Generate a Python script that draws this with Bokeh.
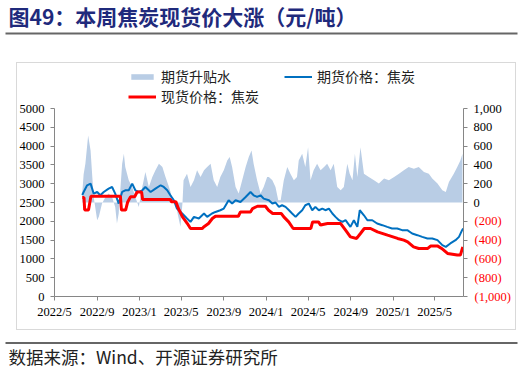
import pandas as pd
from bokeh.plotting import figure
from bokeh.layouts import column
from bokeh.models import (Range1d, LinearAxis, FixedTicker, ColumnDataSource, Legend, LegendItem)
from bokeh.core.properties import value
from bokeh.embed import file_html
from bokeh.resources import INLINE

# ---------------- data ----------------
spot_dates = ["2022-07-20", "2022-07-25", "2022-07-27", "2022-08-07", "2022-08-14", "2022-11-07",
              "2022-11-10", "2022-11-22", "2022-11-28", "2022-12-06", "2022-12-18", "2022-12-25",
              "2023-01-07", "2023-01-10", "2023-03-31", "2023-04-03", "2023-04-16", "2023-04-23",
              "2023-05-05", "2023-05-19", "2023-05-28", "2023-07-01", "2023-07-05", "2023-07-19",
              "2023-07-30", "2023-08-08", "2023-10-13", "2023-10-19", "2023-11-17", "2023-11-23",
              "2023-12-07", "2023-12-30", "2024-01-08", "2024-01-20", "2024-02-14", "2024-02-21",
              "2024-03-06", "2024-03-19", "2024-05-09", "2024-05-14", "2024-05-31", "2024-06-06",
              "2024-06-26", "2024-08-03", "2024-08-17", "2024-08-31", "2024-09-18", "2024-09-29",
              "2024-10-10", "2024-10-28", "2024-11-17", "2024-12-16", "2025-01-14", "2025-02-01",
              "2025-02-12", "2025-03-01", "2025-03-16", "2025-04-11", "2025-04-19", "2025-05-10",
              "2025-05-21", "2025-06-07", "2025-07-05", "2025-07-14", "2025-07-21"]
spot_vals = [2630, 2630, 2300, 2300, 2665, 2665,
             2300, 2300, 2515, 2650, 2650, 2780,
             2780, 2580, 2580, 2520, 2520, 2340,
             2117, 1941, 1809, 1809, 1851, 1941,
             2074, 2135, 2135, 2249, 2249, 2339,
             2400, 2400, 2294, 2207, 2207, 2117,
             1984, 1809, 1809, 1984, 1984, 1900,
             1941, 1941, 1764, 1586, 1544, 1676,
             1809, 1809, 1720, 1631, 1544, 1498,
             1454, 1321, 1278, 1278, 1340, 1340,
             1278, 1146, 1101, 1101, 1321]

fut_dates = ["2022-07-20", "2022-07-24", "2022-08-03", "2022-08-13", "2022-08-22", "2022-09-01",
             "2022-09-10", "2022-09-20", "2022-10-04", "2022-10-14", "2022-10-23", "2022-11-02",
             "2022-11-12", "2022-11-21", "2022-12-01", "2022-12-11", "2022-12-20", "2022-12-30",
             "2023-01-09", "2023-01-18", "2023-02-02", "2023-02-16", "2023-03-03", "2023-03-12",
             "2023-03-22", "2023-03-31", "2023-04-10", "2023-04-19", "2023-05-04", "2023-05-18",
             "2023-05-28", "2023-06-07", "2023-06-21", "2023-07-06", "2023-07-15", "2023-07-29",
             "2023-08-08", "2023-08-22", "2023-09-01", "2023-09-15", "2023-09-25", "2023-10-05",
             "2023-10-19", "2023-11-03", "2023-11-17", "2023-11-26", "2023-12-06", "2023-12-16",
             "2023-12-25", "2024-01-09", "2024-01-19", "2024-01-28", "2024-02-07", "2024-02-16",
             "2024-02-26", "2024-03-07", "2024-03-16", "2024-03-26", "2024-04-04", "2024-04-14",
             "2024-04-23", "2024-05-03", "2024-05-13", "2024-05-22", "2024-06-01", "2024-06-11",
             "2024-06-20", "2024-06-30", "2024-07-10", "2024-07-19", "2024-07-29", "2024-08-08",
             "2024-08-17", "2024-08-31", "2024-09-10", "2024-09-20", "2024-09-27", "2024-10-09",
             "2024-10-19", "2024-11-02", "2024-11-16", "2024-12-01", "2024-12-15", "2024-12-29",
             "2025-01-13", "2025-01-27", "2025-02-11", "2025-02-25", "2025-03-12", "2025-03-26",
             "2025-04-10", "2025-04-24", "2025-05-09", "2025-05-23", "2025-06-02", "2025-06-15",
             "2025-06-30", "2025-07-10", "2025-07-19", "2025-07-22"]
fut_vals = [2700, 2780, 2958, 3003, 2737, 2780,
            2692, 2780, 2870, 2913, 2737, 2472,
            2780, 2825, 2825, 3003, 2825, 2780,
            2825, 2913, 2780, 2870, 2958, 2913,
            2825, 2692, 2560, 2339, 2207, 2074,
            1984, 2117, 2074, 2207, 2117, 2207,
            2249, 2294, 2339, 2560, 2472, 2560,
            2515, 2647, 2780, 2692, 2647, 2692,
            2604, 2560, 2472, 2500, 2383, 2427,
            2383, 2294, 2207, 2117, 2207, 2294,
            2427, 2472, 2294, 2383, 2294, 2339,
            2294, 2339, 2207, 2117, 2029, 1984,
            2029, 1851, 2029, 1851, 2294, 2160,
            2029, 2029, 1941, 1897, 1851, 1809,
            1809, 1764, 1764, 1676, 1631, 1586,
            1544, 1544, 1498, 1366, 1321, 1411,
            1498, 1586, 1764, 1809]

basis_dates = ["2022-07-20", "2022-07-24", "2022-07-29", "2022-08-06", "2022-08-13", "2022-08-18",
               "2022-08-22", "2022-09-01", "2022-09-06", "2022-09-15", "2022-09-25", "2022-10-04",
               "2022-10-14", "2022-10-23", "2022-10-28", "2022-11-02", "2022-11-12", "2022-11-17",
               "2022-11-21", "2022-12-01", "2022-12-11", "2022-12-20", "2022-12-30", "2023-01-09",
               "2023-01-18", "2023-01-28", "2023-02-07", "2023-02-16", "2023-02-26", "2023-03-08",
               "2023-03-17", "2023-03-27", "2023-04-05", "2023-04-15", "2023-04-20", "2023-04-29",
               "2023-05-05", "2023-05-08", "2023-05-18", "2023-05-28", "2023-06-07", "2023-06-16",
               "2023-06-26", "2023-07-06", "2023-07-15", "2023-07-25", "2023-08-03", "2023-08-13",
               "2023-08-22", "2023-09-01", "2023-09-11", "2023-09-18", "2023-09-25", "2023-10-05",
               "2023-10-14", "2023-10-24", "2023-11-03", "2023-11-12", "2023-11-20", "2023-11-26",
               "2023-12-06", "2023-12-16", "2023-12-25", "2024-01-04", "2024-01-09", "2024-01-19",
               "2024-01-28", "2024-02-05", "2024-02-12", "2024-02-21", "2024-03-02", "2024-03-11",
               "2024-03-21", "2024-03-30", "2024-04-04", "2024-04-14", "2024-04-23", "2024-05-01",
               "2024-05-08", "2024-05-17", "2024-05-27", "2024-06-06", "2024-06-16", "2024-06-25",
               "2024-07-05", "2024-07-14", "2024-07-24", "2024-08-03", "2024-08-12", "2024-08-22",
               "2024-08-29", "2024-09-06", "2024-09-13", "2024-09-20", "2024-09-29", "2024-10-09",
               "2024-10-23", "2024-11-07", "2024-11-21", "2024-12-06", "2024-12-20", "2025-01-04",
               "2025-01-18", "2025-02-01", "2025-02-15", "2025-03-02", "2025-03-16", "2025-03-31",
               "2025-04-14", "2025-04-24", "2025-05-09", "2025-05-23", "2025-06-02", "2025-06-11",
               "2025-06-25", "2025-07-05", "2025-07-14", "2025-07-20"]
basis_vals = [100, 300, 413, 713, 554, 271,
              59, -188, -150, -11, 59, 95,
              59, -47, -223, -117, 413, 519,
              377, 236, 165, 59, -47, 165,
              324, 165, 271, 342, 413, 377,
              271, 165, 59, -11, -100, -259,
              0, 236, 307, 165, 236, 342,
              271, 342, 377, 413, 236, 165,
              271, 342, 448, 483, 377, 165,
              95, 236, 377, 483, 554, 413,
              236, 95, 165, 271, 271, 236,
              165, 24, 24, 236, 377, 307,
              236, 271, 448, 519, 377, 589,
              236, 342, 413, 342, 377, 413,
              342, 413, 165, 130, 165, 413,
              307, 236, 519, 271, 589, 307,
              271, 236, 201, 254, 236, 271,
              307, 342, 377, 360, 377, 324,
              307, 254, 201, 130, 112, 218,
              307, 377, 448, 519]

x_tick_dates = ["2022-05-01", "2022-09-01", "2023-01-01", "2023-05-01", "2023-09-01", "2024-01-01",
                "2024-05-01", "2024-09-01", "2025-01-01", "2025-05-01"]
x_tick_labels = ["2022/5", "2022/9", "2023/1", "2023/5", "2023/9", "2024/1",
                 "2024/5", "2024/9", "2025/1", "2025/5"]
left_ticks = [0, 500, 1000, 1500, 2000, 2500, 3000, 3500, 4000, 4500, 5000]
right_ticks = [-1000, -800, -600, -400, -200, 0, 200, 400, 600, 800, 1000]
right_tick_labels = ["(1,000)", "(800)", "(600)", "(400)", "(200)", "0", "200", "400", "600", "800", "1,000"]

title_text = "图49：本周焦炭现货价大涨（元/吨）"
source_text = "数据来源：Wind、开源证券研究所"
series_names = ["期货升贴水", "期货价格：焦炭", "现货价格：焦炭"]

# ---------------- styling / layout constants ----------------
AXIS_COL = "#868686"
BOX_COL = "#D9D9D9"
SERIF = "Liberation Serif"
CJK = "Noto Sans CJK SC"
AREA_COL = "#B9CDE5"
FUT_COL = "#0070C0"
SPOT_COL = "#FF0000"
W = 522
HDR_H, MAIN_H, FTR_H = 40, 290, 46
BORDER_T, BORDER_B = 22, 34               # main frame spans y = 62 .. 296 on the page
FRAME_H = MAIN_H - BORDER_T - BORDER_B    # 234 px
AXIS_H = 188                              # axes (0..5000 / -1000..1000) occupy the lower 188 px
LEFT_MIN, LEFT_MAX = left_ticks[0], left_ticks[-1]
RIGHT_MIN, RIGHT_MAX = right_ticks[0], right_ticks[-1]


def ms(d):
    return int(pd.Timestamp(d).value // 10**6)


def blank_fig(h, y_top):
    f = figure(width=W, height=h, x_range=Range1d(0, W), y_range=Range1d(y_top + h, y_top),
               output_backend="svg", toolbar_location=None,
               min_border_left=0, min_border_right=0, min_border_top=0, min_border_bottom=0,
               x_axis_location=None, y_axis_location=None)
    f.frame_align = False
    f.grid.visible = False
    f.outline_line_color = None
    f.background_fill_color = "white"
    f.border_fill_color = "white"
    return f


# ---------------- header: title ----------------
hdr = blank_fig(HDR_H, 0)
hdr.text(x=[8], y=[15], text=[title_text], text_font=value(CJK), text_font_style="bold",
         text_font_size="21px", text_color="#1F2A7C", text_baseline="middle", text_align="left")
hdr.segment(x0=[5], y0=[33], x1=[517], y1=[33], line_color="#666666", line_width=2)

# ---------------- main chart ----------------
ext = FRAME_H / AXIS_H
p = figure(width=W, height=MAIN_H, x_axis_type="datetime",
           x_range=Range1d(pd.Timestamp("2022-05-01"), pd.Timestamp("2025-07-23")),
           y_range=Range1d(LEFT_MIN, LEFT_MIN + (LEFT_MAX - LEFT_MIN) * ext),
           output_backend="svg", toolbar_location=None,
           min_border_left=54, min_border_right=59, min_border_top=BORDER_T, min_border_bottom=BORDER_B)
p.frame_align = False
p.extra_y_ranges = {"basis": Range1d(RIGHT_MIN, RIGHT_MIN + (RIGHT_MAX - RIGHT_MIN) * ext)}
p.xgrid.visible = False
p.ygrid.visible = False
p.outline_line_color = None
p.background_fill_alpha = 0
p.border_fill_alpha = 0
# light grey chart box (drawn as CSS background lines behind the transparent canvas)
box_h = MAIN_H - BORDER_T
p.styles = {
    "background-color": "white",
    "background-image": ", ".join([f"linear-gradient({BOX_COL}, {BOX_COL})"] * 4),
    "background-size": f"1px {box_h}px, 1px {box_h}px, 500px 1px, 500px 1px",
    "background-position": f"16px {BORDER_T}px, 515px {BORDER_T}px, 16px {BORDER_T}px, 16px {MAIN_H - 1}px",
    "background-repeat": "no-repeat",
}

basis_src = ColumnDataSource(dict(x=pd.to_datetime(basis_dates), y=basis_vals))
fut_src = ColumnDataSource(dict(x=pd.to_datetime(fut_dates), y=fut_vals))
spot_src = ColumnDataSource(dict(x=pd.to_datetime(spot_dates), y=spot_vals))

r_area = p.varea(x="x", y1=0, y2="y", source=basis_src, y_range_name="basis", fill_color=AREA_COL)
r_fut = p.line("x", "y", source=fut_src, line_color=FUT_COL, line_width=2)
r_spot = p.line("x", "y", source=spot_src, line_color=SPOT_COL, line_width=3)

xa = p.xaxis[0]
xa.ticker = FixedTicker(ticks=[ms(d) for d in x_tick_dates])
xa.major_label_overrides = {ms(d): lab for d, lab in zip(x_tick_dates, x_tick_labels)}
ya = p.yaxis[0]
ya.ticker = FixedTicker(ticks=left_ticks)
ya.bounds = (LEFT_MIN, LEFT_MAX)

# right axis: line, ticks and positive labels (black)
ra = LinearAxis(y_range_name="basis", ticker=FixedTicker(ticks=right_ticks), bounds=(RIGHT_MIN, RIGHT_MAX))
ra.major_label_overrides = {t: (lab if t >= 0 else "") for t, lab in zip(right_ticks, right_tick_labels)}
p.add_layout(ra, "right")
# second right axis carrying only the negative labels (red), pulled back next to the first
rn = LinearAxis(y_range_name="basis", ticker=FixedTicker(ticks=right_ticks), bounds=(RIGHT_MIN, RIGHT_MAX))
rn.major_label_overrides = {t: (lab if t < 0 else "") for t, lab in zip(right_ticks, right_tick_labels)}
p.add_layout(rn, "right")

for ax in (xa, ya, ra, rn):
    ax.axis_line_color = AXIS_COL
    ax.major_tick_line_color = AXIS_COL
    ax.minor_tick_line_color = None
    ax.major_tick_in = 0
    ax.major_tick_out = 4
    ax.major_label_text_font = SERIF
    ax.major_label_text_font_size = "12.5px"
    ax.major_label_text_color = "#000000"
    ax.major_label_standoff = 6
xa.major_label_standoff = 4
rn.axis_line_color = None
rn.major_tick_line_color = None
rn.major_tick_out = 0
rn.major_label_text_color = SPOT_COL
rn.major_label_standoff = -30

# legend sits in the upper (axis-free) band of the frame
legend = Legend(items=[LegendItem(label=series_names[0], renderers=[r_area]),
                       LegendItem(label=series_names[1], renderers=[r_fut]),
                       LegendItem(label=series_names[2], renderers=[r_spot])],
                location=(128 - 54, AXIS_H + 2), orientation="horizontal", ncols=2,
                glyph_width=28, glyph_height=7, label_width=123, label_height=20,
                label_standoff=5, spacing=0, padding=0, margin=0,
                border_line_alpha=0, background_fill_alpha=0,
                label_text_font=CJK, label_text_font_size="14px", label_text_color="#222222")
p.add_layout(legend, "center")

# ---------------- footer: source ----------------
ftr = blank_fig(FTR_H, HDR_H + MAIN_H)
ftr.segment(x0=[5], y0=[342.5], x1=[517], y1=[342.5], line_color="#666666", line_width=2)
ftr.text(x=[8], y=[356], text=[source_text], text_font=value(CJK), text_font_size="17.5px",
         text_color="#222222", text_baseline="middle", text_align="left")

layout = column(hdr, p, ftr, spacing=0)
open("out.html", "w").write(file_html(layout, INLINE))
